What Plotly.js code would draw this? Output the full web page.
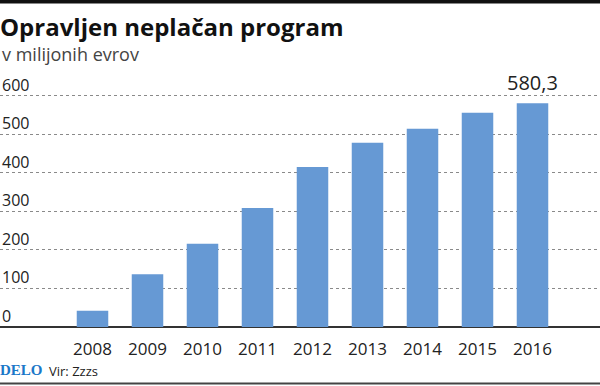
<!DOCTYPE html>
<html>
<head>
<meta charset="utf-8">
<script src="https://cdn.plot.ly/plotly-3.0.1.min.js"></script>
<style>html,body{margin:0;padding:0;background:#fff;}#chart{width:600px;height:386px;}</style>
</head>
<body>
<div id="chart"></div>
<script>
var years = ['2008','2009','2010','2011','2012','2013','2014','2015','2016'];
var values = [42, 137, 216, 309, 415, 478, 514, 556, 580.3];
var yTickValues = [0, 100, 200, 300, 400, 500, 600];
var yTickLabels = ['0', '100', '200', '300', '400', '500', '600'];
var highlightLabel = '580,3';
var titleText = 'Opravljen neplačan program';
var subtitleText = 'v milijonih evrov';
var logoText = 'DELO';
var sourceText = 'Vir: Zzzs';

var FONT = 'Open Sans, Noto Sans, sans-serif';
var H = 386, T = 77, B = 59, PH = H - T - B;
function py(px) { return (H - B - px) / PH; }

var annotations = yTickValues.map(function (v, i) {
  return {
    xref: 'paper', yref: 'y', x: 0, y: v,
    xanchor: 'left', yanchor: 'bottom', yshift: -2,
    text: yTickLabels[i], showarrow: false,
    font: {family: FONT, size: 16, color: '#222'}
  };
});
annotations.push({
  xref: 'x', yref: 'y', x: years.length - 1, y: values[values.length - 1],
  xanchor: 'center', yanchor: 'bottom', yshift: 5,
  text: highlightLabel, showarrow: false,
  font: {family: FONT, size: 20, color: '#222'}
});
annotations.push({
  xref: 'paper', yref: 'paper', x: 0, y: py(54), xanchor: 'left', yanchor: 'middle',
  text: subtitleText, showarrow: false,
  font: {family: FONT, size: 18, color: '#444'}
});
annotations.push({
  xref: 'paper', yref: 'paper', x: 0, y: py(370), xanchor: 'left', yanchor: 'middle',
  text: '<b>' + logoText + '</b>', showarrow: false, xshift: -2,
  font: {family: 'Liberation Serif, DejaVu Serif, serif', size: 15, color: '#1b78c8'}
});
annotations.push({
  xref: 'paper', yref: 'paper', x: 0, y: py(371), xanchor: 'left', yanchor: 'middle',
  text: sourceText, showarrow: false, xshift: 47,
  font: {family: 'Liberation Sans Narrow, Open Sans, sans-serif', size: 13, color: '#222'}
});

var trace = {
  type: 'bar', x: years, y: values,
  marker: {color: '#6699d4'},
  hoverinfo: 'none'
};

var layout = {
  width: 600, height: 386,
  margin: {l: 0, r: 0, t: T, b: B, pad: 0},
  paper_bgcolor: '#fff', plot_bgcolor: '#fff',
  showlegend: false,
  bargap: 0.427,
  title: {
    text: '<b>' + titleText + '</b>',
    x: 0, xref: 'paper', xanchor: 'left',
    y: 1 - 28 / H, yref: 'container', yanchor: 'middle',
    font: {family: FONT, size: 24, color: '#111'}
  },
  xaxis: {
    type: 'category',
    range: [-92.5 / 55, (600 - 92.5) / 55],
    showgrid: false, zeroline: false, showline: false,
    ticks: '', ticklabelstandoff: 10,
    tickfont: {family: FONT, size: 17, color: '#222'},
    fixedrange: true
  },
  yaxis: {
    range: [0, PH / 0.3855],
    showticklabels: false, ticks: '',
    tickvals: yTickValues,
    showgrid: true, gridcolor: '#8a8a8a', gridwidth: 1, griddash: 'dot',
    zeroline: true, zerolinecolor: '#333', zerolinewidth: 1.5,
    fixedrange: true
  },
  annotations: annotations,
  shapes: [
    {type: 'rect', xref: 'paper', yref: 'paper', x0: 0, x1: 1, y0: py(0), y1: py(3.5),
     fillcolor: '#111', line: {width: 0}},
    {type: 'line', xref: 'paper', yref: 'paper', x0: 0, x1: 1, y0: py(383.5), y1: py(383.5),
     line: {color: '#444', width: 2}}
  ]
};

Plotly.newPlot('chart', [trace], layout, {displayModeBar: false, staticPlot: true});
</script>
</body>
</html>
